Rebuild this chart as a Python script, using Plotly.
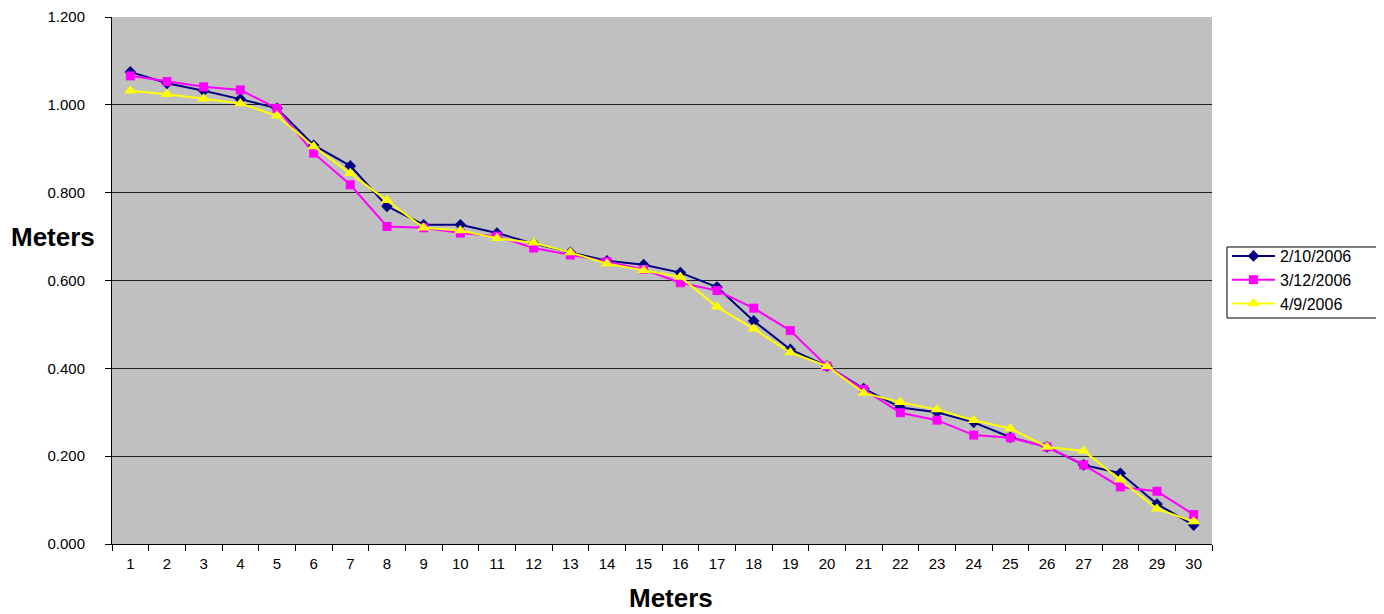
import plotly.graph_objects as go

categories = list(range(1, 31))
s_0210 = [1.075, 1.049, 1.032, 1.013, 0.992, 0.908, 0.861, 0.769, 0.727, 0.727,
          0.708, 0.684, 0.664, 0.645, 0.636, 0.618, 0.585, 0.508, 0.443, 0.405,
          0.354, 0.311, 0.300, 0.277, 0.243, 0.221, 0.180, 0.161, 0.091, 0.043]
s_0312 = [1.066, 1.053, 1.041, 1.034, 0.992, 0.890, 0.818, 0.723, 0.720, 0.708,
          0.701, 0.674, 0.658, 0.643, 0.625, 0.595, 0.577, 0.537, 0.486, 0.405,
          0.352, 0.299, 0.282, 0.248, 0.242, 0.221, 0.180, 0.130, 0.120, 0.067]
s_0409 = [1.032, 1.024, 1.014, 1.003, 0.975, 0.905, 0.844, 0.783, 0.720, 0.714,
          0.696, 0.686, 0.664, 0.638, 0.623, 0.608, 0.540, 0.490, 0.436, 0.405,
          0.344, 0.323, 0.306, 0.282, 0.263, 0.221, 0.212, 0.147, 0.080, 0.051]
names = ["2/10/2006", "3/12/2006", "4/9/2006"]
y_ticks = [0.0, 0.2, 0.4, 0.6, 0.8, 1.0, 1.2]
y_tick_labels = ["0.000", "0.200", "0.400", "0.600", "0.800", "1.000", "1.200"]

fig = go.Figure()
styles = [
    ("#000080", "diamond", 9),
    ("#FF00FF", "square", 9),
    ("#FFFF00", "triangle-up", 11),
]
for name, vals, (col, sym, sz) in zip(names, [s_0210, s_0312, s_0409], styles):
    fig.add_trace(go.Scatter(
        x=categories, y=vals, name=name, mode="lines+markers",
        line=dict(color=col, width=2),
        marker=dict(color=col, symbol=sym, size=sz, line=dict(width=0)),
    ))

# page body has an 8px margin: figure drawn at (8, 8)
W, H = 1376, 606
L, T, R, B = 104, 9, 172, 70
pw = W - L - R
ph = H - T - B


def px_x(x):
    return (x - 8 - L) / pw


def px_y(y):
    return 1 - (y - 8 - T) / ph


fig.update_layout(
    width=W, height=H,
    margin=dict(l=L, r=R, t=T, b=B, autoexpand=False),
    paper_bgcolor="white",
    plot_bgcolor="#C0C0C0",
    font=dict(family="Liberation Sans, Arial, sans-serif", size=15, color="black"),
    showlegend=True,
    legend=dict(
        x=px_x(1227), y=px_y(239),
        xanchor="left", yanchor="top",
        borderwidth=0, bgcolor="rgba(0,0,0,0)",
        font=dict(size=16),
        tracegroupgap=0,
        itemwidth=43,
    ),
    shapes=[
        dict(type="rect", xref="paper", yref="paper",
             x0=px_x(1227), x1=px_x(1380), y0=px_y(318), y1=px_y(247),
             line=dict(color="black", width=1), fillcolor="white", layer="above"),
    ],
    xaxis=dict(
        type="category", automargin=False,
        tickmode="array", tickvals=categories, ticktext=[str(c) for c in categories],
        tickson="boundaries", ticks="outside", ticklen=6, tickcolor="black",
        showline=True, linecolor="black", linewidth=1, mirror=False,
        showgrid=False, zeroline=False,
        ticklabelstandoff=6,
        range=[-0.5, 29.5],
    ),
    yaxis=dict(
        range=[0, 1.2], automargin=False,
        tickmode="array", tickvals=y_ticks, ticktext=y_tick_labels,
        ticks="outside", ticklen=6, tickcolor="black",
        showline=True, linecolor="black", linewidth=1,
        showgrid=True, gridcolor="#202020", gridwidth=1,
        zeroline=False,
        ticklabelstandoff=17,
    ),
    annotations=[
        dict(text="<b>Meters</b>", xref="paper", yref="paper",
             x=px_x(53), y=px_y(237),
             xanchor="center", yanchor="middle",
             showarrow=False, font=dict(size=26)),
        dict(text="<b>Meters</b>", xref="paper", yref="paper",
             x=px_x(671), y=px_y(598),
             xanchor="center", yanchor="middle",
             showarrow=False, font=dict(size=26)),
    ],
)

fig.write_html("out.html")
